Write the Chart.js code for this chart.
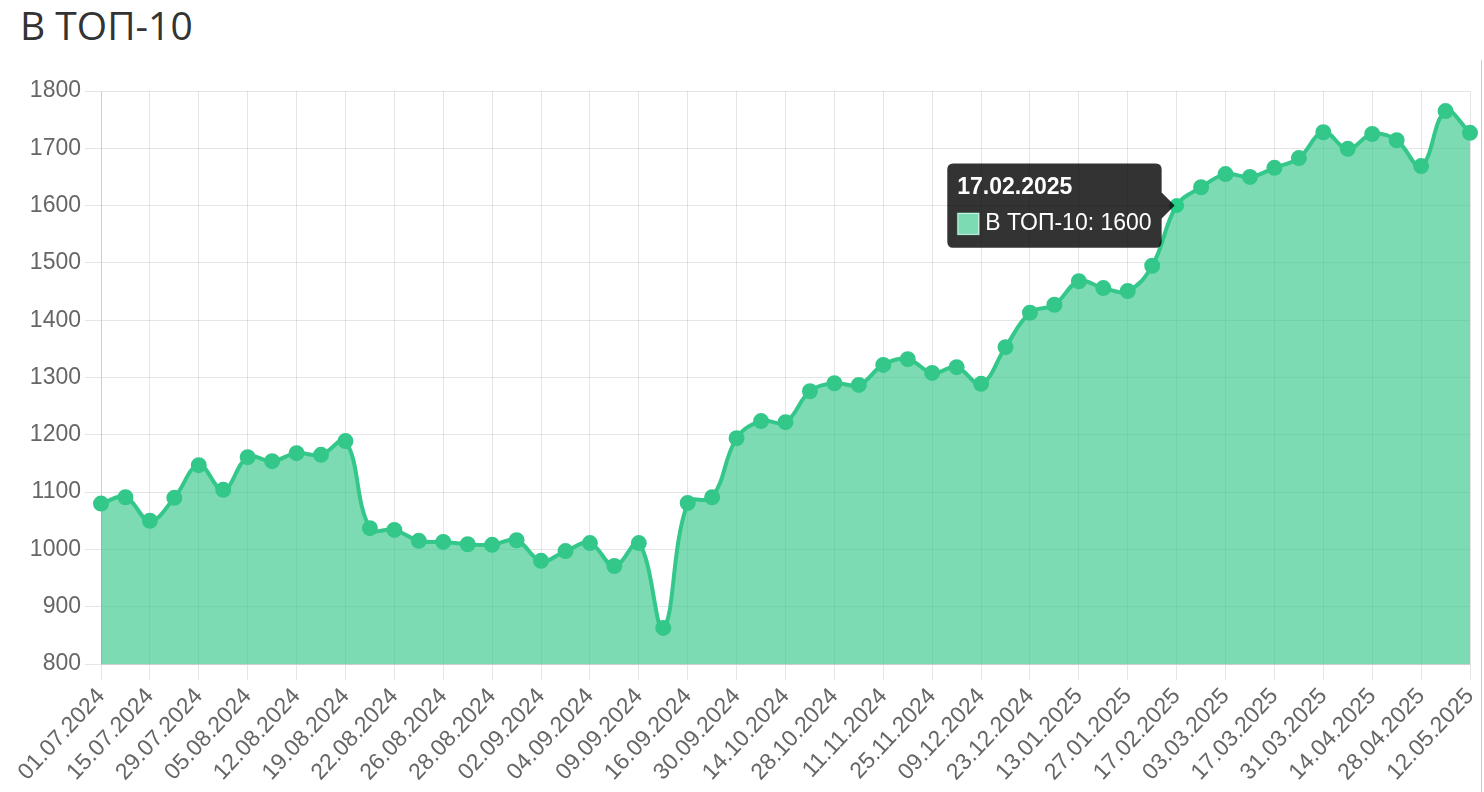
<!DOCTYPE html>
<html>
<head>
<meta charset="utf-8">
<script src="https://cdn.jsdelivr.net/npm/chart.js@4/dist/chart.umd.min.js"></script>
<style>
  body { margin: 0; background: #fff; }
  #title {
    position: absolute; left: 20px; top: -2px;
    font-family: "Open Sans", sans-serif; font-size: 39px; color: #333;
  }
  #wrap {
    position: absolute; left: 0; top: 60px; width: 1481px; height: 732px;
    border-right: 1px solid #ccc;
  }
</style>
</head>
<body>
<div id="title">В ТОП-10</div>
<div id="wrap"><canvas id="myChart"></canvas></div>
<script>
const dates = [
  '01.07.2024', '08.07.2024', '15.07.2024', '22.07.2024', '29.07.2024', '01.08.2024',
  '05.08.2024', '08.08.2024', '12.08.2024', '15.08.2024', '19.08.2024', '20.08.2024',
  '22.08.2024', '23.08.2024', '26.08.2024', '27.08.2024', '28.08.2024', '30.08.2024',
  '02.09.2024', '03.09.2024', '04.09.2024', '06.09.2024', '09.09.2024', '12.09.2024',
  '16.09.2024', '23.09.2024', '30.09.2024', '07.10.2024', '14.10.2024', '21.10.2024',
  '28.10.2024', '04.11.2024', '11.11.2024', '18.11.2024', '25.11.2024', '02.12.2024',
  '09.12.2024', '16.12.2024', '23.12.2024', '30.12.2024', '13.01.2025', '20.01.2025',
  '27.01.2025', '10.02.2025', '17.02.2025', '24.02.2025', '03.03.2025', '10.03.2025',
  '17.03.2025', '24.03.2025', '31.03.2025', '07.04.2025', '14.04.2025', '21.04.2025',
  '28.04.2025', '05.05.2025', '12.05.2025'
];

const top10 = [
  1080, 1091, 1050, 1090, 1147, 1104, 1161, 1154, 1168, 1165, 1189, 1037,
  1034, 1015, 1013, 1009, 1008, 1016, 980, 997, 1011, 971, 1011, 863,
  1081, 1091, 1194, 1224, 1222, 1276, 1290, 1287, 1322, 1332, 1308, 1318,
  1289, 1353, 1413, 1427, 1468, 1456, 1451, 1495, 1600, 1632, 1655, 1650,
  1666, 1683, 1728, 1699, 1725, 1714, 1669, 1765, 1727
];

const seriesName = 'В ТОП-10';
const highlightIndex = 44;

const lineColor = 'rgb(52, 199, 138)';
const areaColor = 'rgba(52, 199, 138, 0.64)';

const ctx = document.getElementById('myChart');

const chart = new Chart(ctx, {
  type: 'line',
  data: {
    labels: dates,
    datasets: [{
      label: seriesName,
      data: top10,
      fill: true,
      tension: 0.4,
      borderWidth: 4,
      borderColor: lineColor,
      backgroundColor: areaColor,
      pointRadius: 6,
      pointHoverRadius: 7,
      pointBackgroundColor: lineColor,
      pointBorderColor: lineColor,
      pointHoverBackgroundColor: 'rgb(40, 205, 135)',
      pointHoverBorderColor: 'rgb(40, 205, 135)'
    }]
  },
  options: {
    responsive: true,
    maintainAspectRatio: false,
    animation: false,
    layout: {
      padding: { top: 31, right: 11, left: 0, bottom: 0 }
    },
    plugins: {
      legend: { display: false },
      tooltip: {
        backgroundColor: 'rgba(0, 0, 0, 0.8)',
        titleFont: { family: 'Arial', size: 23, weight: 'bold' },
        bodyFont: { family: 'Arial', size: 23 },
        padding: 10,
        titleMarginBottom: 9,
        cornerRadius: 6,
        caretSize: 13,
        caretPadding: 2,
        boxWidth: 22,
        boxHeight: 22,
        boxPadding: 4,
        callbacks: {
          label: function (item) { return item.dataset.label + ': ' + item.raw; },
          labelColor: function () {
            return { borderColor: 'rgba(52, 199, 138, 0.45)', backgroundColor: areaColor };
          }
        }
      }
    },
    scales: {
      x: {
        grid: { color: 'rgba(0, 0, 0, 0.1)', tickLength: 16 },
        border: { color: 'rgba(0, 0, 0, 0.1)' },
        ticks: {
          color: '#666',
          font: { family: 'Arial', size: 23 },
          minRotation: 47,
          maxRotation: 47,
          autoSkip: true,
          padding: 3
        },
        afterFit: function (scale) {
          scale.height = 128;
          scale.paddingRight = 0;
        }
      },
      y: {
        min: 800,
        max: 1800,
        grid: { color: 'rgba(0, 0, 0, 0.1)', tickLength: 16 },
        border: { color: 'rgba(0, 0, 0, 0.1)' },
        ticks: {
          stepSize: 100,
          color: '#666',
          font: { family: 'Arial', size: 23 },
          padding: 4,
          callback: function (value) { return String(value); }
        },
        afterFit: function (scale) { scale.width = 101; }
      }
    }
  }
});

// show the hovered tooltip as in the screenshot
const meta = chart.getDatasetMeta(0);
const pt = meta.data[highlightIndex];
chart.setActiveElements([{ datasetIndex: 0, index: highlightIndex }]);
chart.tooltip.setActiveElements([{ datasetIndex: 0, index: highlightIndex }], { x: pt.x, y: pt.y });
chart.update();
</script>
</body>
</html>
